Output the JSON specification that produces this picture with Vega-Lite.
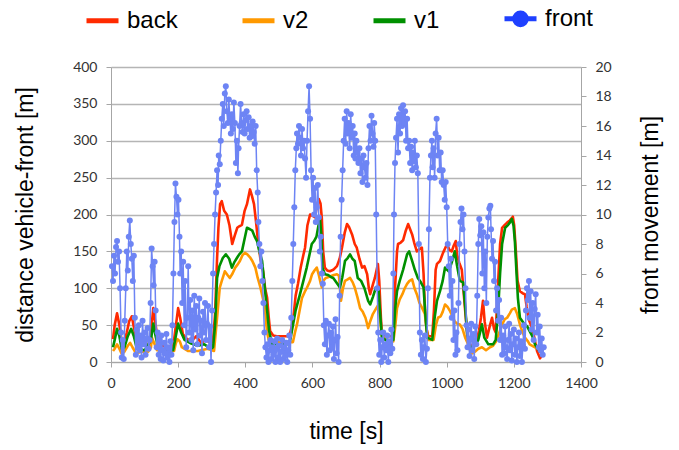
{
  "$schema": "https://vega.github.io/schema/vega-lite/v6.json",
  "width": 470,
  "height": 295,
  "autosize": {"type": "none"},
  "padding": {"left": 111, "top": 67, "right": 98, "bottom": 88},
  "background": "white",
  "config": {
    "font": "Liberation Sans",
    "view": {"stroke": null},
    "axis": {
      "labelFont": "Lato",
      "labelFontSize": 14,
      "labelColor": "#333333",
      "titleFont": "Liberation Sans",
      "titleFontSize": 23,
      "titleFontWeight": "normal",
      "titleColor": "#000000",
      "domainColor": "#a6a6a6",
      "tickColor": "#a6a6a6",
      "tickSize": 5,
      "labelPadding": 9
    }
  },
  "datasets": {
    "dist": [
      {"s":"back","t":6,"v":31},{"s":"back","t":11,"v":50},{"s":"back","t":18,"v":66},{"s":"back","t":25,"v":50},{"s":"back","t":32,"v":28},{"s":"back","t":38,"v":24},{"s":"back","t":47,"v":40},{"s":"back","t":54,"v":55},{"s":"back","t":62,"v":62},{"s":"back","t":69,"v":45},{"s":"back","t":77,"v":24},{"s":"back","t":91,"v":22},{"s":"back","t":111,"v":22},{"s":"back","t":119,"v":40},{"s":"back","t":126,"v":73},{"s":"back","t":133,"v":50},{"s":"back","t":141,"v":24},{"s":"back","t":160,"v":21},{"s":"back","t":185,"v":20},{"s":"back","t":192,"v":45},{"s":"back","t":200,"v":73},{"s":"back","t":206,"v":60},{"s":"back","t":214,"v":38},{"s":"back","t":224,"v":32},{"s":"back","t":239,"v":28},{"s":"back","t":254,"v":35},{"s":"back","t":268,"v":26},{"s":"back","t":283,"v":30},{"s":"back","t":298,"v":25},{"s":"back","t":304,"v":30},{"s":"back","t":310,"v":65},{"s":"back","t":316,"v":141},{"s":"back","t":320,"v":182},{"s":"back","t":325,"v":214},{"s":"back","t":330,"v":218},{"s":"back","t":337,"v":205},{"s":"back","t":345,"v":200},{"s":"back","t":353,"v":185},{"s":"back","t":361,"v":160},{"s":"back","t":369,"v":172},{"s":"back","t":376,"v":182},{"s":"back","t":382,"v":184},{"s":"back","t":390,"v":186},{"s":"back","t":398,"v":205},{"s":"back","t":405,"v":214},{"s":"back","t":414,"v":234},{"s":"back","t":420,"v":225},{"s":"back","t":426,"v":214},{"s":"back","t":432,"v":190},{"s":"back","t":437,"v":168},{"s":"back","t":445,"v":140},{"s":"back","t":453,"v":123},{"s":"back","t":459,"v":100},{"s":"back","t":465,"v":87},{"s":"back","t":470,"v":60},{"s":"back","t":474,"v":42},{"s":"back","t":483,"v":36},{"s":"back","t":494,"v":35},{"s":"back","t":509,"v":35},{"s":"back","t":527,"v":35},{"s":"back","t":534,"v":40},{"s":"back","t":542,"v":55},{"s":"back","t":550,"v":90},{"s":"back","t":557,"v":106},{"s":"back","t":565,"v":128},{"s":"back","t":573,"v":145},{"s":"back","t":578,"v":155},{"s":"back","t":585,"v":185},{"s":"back","t":593,"v":200},{"s":"back","t":601,"v":198},{"s":"back","t":608,"v":196},{"s":"back","t":613,"v":212},{"s":"back","t":619,"v":221},{"s":"back","t":624,"v":215},{"s":"back","t":628,"v":195},{"s":"back","t":632,"v":150},{"s":"back","t":637,"v":128},{"s":"back","t":644,"v":124},{"s":"back","t":652,"v":123},{"s":"back","t":662,"v":125},{"s":"back","t":673,"v":130},{"s":"back","t":681,"v":140},{"s":"back","t":688,"v":155},{"s":"back","t":696,"v":175},{"s":"back","t":703,"v":187},{"s":"back","t":709,"v":183},{"s":"back","t":718,"v":173},{"s":"back","t":726,"v":160},{"s":"back","t":732,"v":155},{"s":"back","t":740,"v":140},{"s":"back","t":748,"v":128},{"s":"back","t":755,"v":130},{"s":"back","t":763,"v":119},{"s":"back","t":768,"v":100},{"s":"back","t":772,"v":92},{"s":"back","t":780,"v":105},{"s":"back","t":786,"v":114},{"s":"back","t":795,"v":133},{"s":"back","t":799,"v":110},{"s":"back","t":804,"v":60},{"s":"back","t":807,"v":38},{"s":"back","t":819,"v":35},{"s":"back","t":834,"v":35},{"s":"back","t":841,"v":36},{"s":"back","t":846,"v":100},{"s":"back","t":852,"v":150},{"s":"back","t":855,"v":160},{"s":"back","t":863,"v":162},{"s":"back","t":870,"v":165},{"s":"back","t":878,"v":178},{"s":"back","t":885,"v":187},{"s":"back","t":891,"v":180},{"s":"back","t":897,"v":173},{"s":"back","t":903,"v":162},{"s":"back","t":911,"v":150},{"s":"back","t":919,"v":153},{"s":"back","t":926,"v":155},{"s":"back","t":931,"v":120},{"s":"back","t":935,"v":73},{"s":"back","t":940,"v":45},{"s":"back","t":945,"v":35},{"s":"back","t":957,"v":35},{"s":"back","t":962,"v":70},{"s":"back","t":967,"v":125},{"s":"back","t":971,"v":133},{"s":"back","t":980,"v":137},{"s":"back","t":989,"v":148},{"s":"back","t":996,"v":155},{"s":"back","t":1001,"v":160},{"s":"back","t":1008,"v":152},{"s":"back","t":1015,"v":150},{"s":"back","t":1021,"v":158},{"s":"back","t":1027,"v":164},{"s":"back","t":1031,"v":145},{"s":"back","t":1037,"v":135},{"s":"back","t":1045,"v":125},{"s":"back","t":1053,"v":80},{"s":"back","t":1061,"v":38},{"s":"back","t":1070,"v":19},{"s":"back","t":1079,"v":25},{"s":"back","t":1089,"v":30},{"s":"back","t":1096,"v":42},{"s":"back","t":1102,"v":60},{"s":"back","t":1108,"v":83},{"s":"back","t":1113,"v":55},{"s":"back","t":1120,"v":33},{"s":"back","t":1129,"v":50},{"s":"back","t":1135,"v":60},{"s":"back","t":1141,"v":45},{"s":"back","t":1146,"v":40},{"s":"back","t":1150,"v":80},{"s":"back","t":1155,"v":125},{"s":"back","t":1159,"v":160},{"s":"back","t":1165,"v":182},{"s":"back","t":1173,"v":186},{"s":"back","t":1180,"v":189},{"s":"back","t":1188,"v":192},{"s":"back","t":1197,"v":197},{"s":"back","t":1201,"v":185},{"s":"back","t":1206,"v":150},{"s":"back","t":1211,"v":110},{"s":"back","t":1218,"v":96},{"s":"back","t":1227,"v":93},{"s":"back","t":1233,"v":92},{"s":"back","t":1238,"v":75},{"s":"back","t":1244,"v":58},{"s":"back","t":1251,"v":50},{"s":"back","t":1257,"v":42},{"s":"back","t":1263,"v":28},{"s":"back","t":1269,"v":15},{"s":"back","t":1278,"v":5},{"s":"back","t":1287,"v":12},
      {"s":"v2","t":6,"v":15},{"s":"v2","t":11,"v":18},{"s":"v2","t":18,"v":24},{"s":"v2","t":25,"v":18},{"s":"v2","t":32,"v":11},{"s":"v2","t":40,"v":14},{"s":"v2","t":50,"v":22},{"s":"v2","t":57,"v":26},{"s":"v2","t":64,"v":20},{"s":"v2","t":74,"v":12},{"s":"v2","t":91,"v":14},{"s":"v2","t":111,"v":14},{"s":"v2","t":119,"v":20},{"s":"v2","t":122,"v":33},{"s":"v2","t":129,"v":25},{"s":"v2","t":137,"v":16},{"s":"v2","t":160,"v":15},{"s":"v2","t":188,"v":15},{"s":"v2","t":193,"v":25},{"s":"v2","t":198,"v":31},{"s":"v2","t":205,"v":28},{"s":"v2","t":211,"v":20},{"s":"v2","t":229,"v":15},{"s":"v2","t":259,"v":15},{"s":"v2","t":288,"v":18},{"s":"v2","t":307,"v":15},{"s":"v2","t":312,"v":40},{"s":"v2","t":316,"v":60},{"s":"v2","t":324,"v":101},{"s":"v2","t":330,"v":110},{"s":"v2","t":339,"v":123},{"s":"v2","t":347,"v":118},{"s":"v2","t":354,"v":114},{"s":"v2","t":362,"v":120},{"s":"v2","t":370,"v":128},{"s":"v2","t":377,"v":132},{"s":"v2","t":384,"v":137},{"s":"v2","t":392,"v":145},{"s":"v2","t":399,"v":148},{"s":"v2","t":406,"v":146},{"s":"v2","t":414,"v":142},{"s":"v2","t":421,"v":137},{"s":"v2","t":430,"v":128},{"s":"v2","t":437,"v":114},{"s":"v2","t":445,"v":101},{"s":"v2","t":453,"v":85},{"s":"v2","t":459,"v":69},{"s":"v2","t":465,"v":40},{"s":"v2","t":471,"v":28},{"s":"v2","t":494,"v":27},{"s":"v2","t":524,"v":27},{"s":"v2","t":542,"v":27},{"s":"v2","t":548,"v":40},{"s":"v2","t":554,"v":51},{"s":"v2","t":562,"v":70},{"s":"v2","t":569,"v":87},{"s":"v2","t":577,"v":95},{"s":"v2","t":584,"v":101},{"s":"v2","t":593,"v":110},{"s":"v2","t":599,"v":119},{"s":"v2","t":606,"v":124},{"s":"v2","t":613,"v":128},{"s":"v2","t":619,"v":118},{"s":"v2","t":624,"v":108},{"s":"v2","t":628,"v":101},{"s":"v2","t":632,"v":110},{"s":"v2","t":640,"v":114},{"s":"v2","t":652,"v":116},{"s":"v2","t":664,"v":118},{"s":"v2","t":673,"v":119},{"s":"v2","t":679,"v":117},{"s":"v2","t":685,"v":83},{"s":"v2","t":691,"v":100},{"s":"v2","t":697,"v":110},{"s":"v2","t":705,"v":112},{"s":"v2","t":712,"v":114},{"s":"v2","t":720,"v":108},{"s":"v2","t":726,"v":101},{"s":"v2","t":734,"v":88},{"s":"v2","t":742,"v":73},{"s":"v2","t":750,"v":68},{"s":"v2","t":758,"v":60},{"s":"v2","t":766,"v":46},{"s":"v2","t":772,"v":55},{"s":"v2","t":780,"v":65},{"s":"v2","t":789,"v":72},{"s":"v2","t":797,"v":78},{"s":"v2","t":801,"v":60},{"s":"v2","t":807,"v":35},{"s":"v2","t":824,"v":30},{"s":"v2","t":841,"v":28},{"s":"v2","t":846,"v":45},{"s":"v2","t":852,"v":73},{"s":"v2","t":860,"v":85},{"s":"v2","t":868,"v":92},{"s":"v2","t":875,"v":100},{"s":"v2","t":882,"v":106},{"s":"v2","t":889,"v":110},{"s":"v2","t":897,"v":112},{"s":"v2","t":904,"v":100},{"s":"v2","t":911,"v":92},{"s":"v2","t":919,"v":80},{"s":"v2","t":927,"v":73},{"s":"v2","t":935,"v":65},{"s":"v2","t":940,"v":45},{"s":"v2","t":945,"v":30},{"s":"v2","t":961,"v":30},{"s":"v2","t":968,"v":50},{"s":"v2","t":974,"v":60},{"s":"v2","t":982,"v":62},{"s":"v2","t":988,"v":68},{"s":"v2","t":995,"v":78},{"s":"v2","t":1002,"v":75},{"s":"v2","t":1010,"v":69},{"s":"v2","t":1017,"v":62},{"s":"v2","t":1024,"v":55},{"s":"v2","t":1031,"v":52},{"s":"v2","t":1039,"v":51},{"s":"v2","t":1047,"v":45},{"s":"v2","t":1055,"v":33},{"s":"v2","t":1061,"v":27},{"s":"v2","t":1073,"v":11},{"s":"v2","t":1084,"v":14},{"s":"v2","t":1094,"v":18},{"s":"v2","t":1105,"v":20},{"s":"v2","t":1117,"v":16},{"s":"v2","t":1129,"v":20},{"s":"v2","t":1138,"v":22},{"s":"v2","t":1146,"v":27},{"s":"v2","t":1153,"v":35},{"s":"v2","t":1165,"v":51},{"s":"v2","t":1173,"v":58},{"s":"v2","t":1180,"v":60},{"s":"v2","t":1188,"v":66},{"s":"v2","t":1194,"v":71},{"s":"v2","t":1203,"v":73},{"s":"v2","t":1210,"v":65},{"s":"v2","t":1218,"v":51},{"s":"v2","t":1226,"v":40},{"s":"v2","t":1233,"v":33},{"s":"v2","t":1242,"v":28},{"s":"v2","t":1247,"v":24},{"s":"v2","t":1255,"v":22},{"s":"v2","t":1263,"v":20},{"s":"v2","t":1271,"v":18},{"s":"v2","t":1278,"v":16},{"s":"v2","t":1287,"v":14},
      {"s":"v1","t":6,"v":20},{"s":"v1","t":11,"v":30},{"s":"v1","t":18,"v":45},{"s":"v1","t":25,"v":35},{"s":"v1","t":32,"v":18},{"s":"v1","t":40,"v":20},{"s":"v1","t":50,"v":35},{"s":"v1","t":60,"v":45},{"s":"v1","t":68,"v":35},{"s":"v1","t":77,"v":18},{"s":"v1","t":101,"v":16},{"s":"v1","t":119,"v":30},{"s":"v1","t":126,"v":52},{"s":"v1","t":133,"v":35},{"s":"v1","t":141,"v":18},{"s":"v1","t":185,"v":16},{"s":"v1","t":193,"v":35},{"s":"v1","t":200,"v":52},{"s":"v1","t":209,"v":40},{"s":"v1","t":219,"v":30},{"s":"v1","t":239,"v":25},{"s":"v1","t":259,"v":22},{"s":"v1","t":278,"v":24},{"s":"v1","t":298,"v":18},{"s":"v1","t":304,"v":20},{"s":"v1","t":310,"v":50},{"s":"v1","t":316,"v":114},{"s":"v1","t":323,"v":130},{"s":"v1","t":333,"v":141},{"s":"v1","t":342,"v":146},{"s":"v1","t":352,"v":140},{"s":"v1","t":360,"v":128},{"s":"v1","t":367,"v":135},{"s":"v1","t":375,"v":141},{"s":"v1","t":382,"v":146},{"s":"v1","t":390,"v":150},{"s":"v1","t":397,"v":165},{"s":"v1","t":405,"v":182},{"s":"v1","t":414,"v":180},{"s":"v1","t":421,"v":178},{"s":"v1","t":428,"v":170},{"s":"v1","t":435,"v":164},{"s":"v1","t":442,"v":150},{"s":"v1","t":450,"v":137},{"s":"v1","t":455,"v":115},{"s":"v1","t":459,"v":96},{"s":"v1","t":465,"v":70},{"s":"v1","t":471,"v":42},{"s":"v1","t":480,"v":24},{"s":"v1","t":494,"v":24},{"s":"v1","t":514,"v":24},{"s":"v1","t":527,"v":24},{"s":"v1","t":534,"v":30},{"s":"v1","t":542,"v":50},{"s":"v1","t":550,"v":70},{"s":"v1","t":563,"v":92},{"s":"v1","t":573,"v":110},{"s":"v1","t":583,"v":128},{"s":"v1","t":591,"v":145},{"s":"v1","t":598,"v":160},{"s":"v1","t":605,"v":164},{"s":"v1","t":612,"v":170},{"s":"v1","t":618,"v":185},{"s":"v1","t":622,"v":196},{"s":"v1","t":626,"v":175},{"s":"v1","t":630,"v":128},{"s":"v1","t":637,"v":119},{"s":"v1","t":647,"v":118},{"s":"v1","t":656,"v":115},{"s":"v1","t":662,"v":114},{"s":"v1","t":671,"v":108},{"s":"v1","t":682,"v":101},{"s":"v1","t":689,"v":115},{"s":"v1","t":697,"v":137},{"s":"v1","t":705,"v":141},{"s":"v1","t":712,"v":146},{"s":"v1","t":719,"v":140},{"s":"v1","t":726,"v":137},{"s":"v1","t":735,"v":114},{"s":"v1","t":745,"v":110},{"s":"v1","t":755,"v":100},{"s":"v1","t":766,"v":83},{"s":"v1","t":772,"v":78},{"s":"v1","t":780,"v":88},{"s":"v1","t":789,"v":101},{"s":"v1","t":797,"v":98},{"s":"v1","t":801,"v":70},{"s":"v1","t":807,"v":33},{"s":"v1","t":824,"v":28},{"s":"v1","t":841,"v":30},{"s":"v1","t":846,"v":70},{"s":"v1","t":852,"v":96},{"s":"v1","t":860,"v":110},{"s":"v1","t":870,"v":125},{"s":"v1","t":882,"v":146},{"s":"v1","t":888,"v":150},{"s":"v1","t":897,"v":137},{"s":"v1","t":905,"v":125},{"s":"v1","t":914,"v":114},{"s":"v1","t":923,"v":108},{"s":"v1","t":931,"v":101},{"s":"v1","t":937,"v":60},{"s":"v1","t":942,"v":33},{"s":"v1","t":957,"v":30},{"s":"v1","t":964,"v":60},{"s":"v1","t":971,"v":83},{"s":"v1","t":980,"v":96},{"s":"v1","t":988,"v":110},{"s":"v1","t":995,"v":128},{"s":"v1","t":1006,"v":123},{"s":"v1","t":1015,"v":135},{"s":"v1","t":1024,"v":150},{"s":"v1","t":1031,"v":130},{"s":"v1","t":1039,"v":110},{"s":"v1","t":1049,"v":108},{"s":"v1","t":1055,"v":75},{"s":"v1","t":1061,"v":38},{"s":"v1","t":1070,"v":20},{"s":"v1","t":1084,"v":22},{"s":"v1","t":1094,"v":30},{"s":"v1","t":1105,"v":51},{"s":"v1","t":1112,"v":33},{"s":"v1","t":1124,"v":24},{"s":"v1","t":1138,"v":24},{"s":"v1","t":1146,"v":30},{"s":"v1","t":1153,"v":69},{"s":"v1","t":1159,"v":120},{"s":"v1","t":1165,"v":160},{"s":"v1","t":1174,"v":182},{"s":"v1","t":1183,"v":186},{"s":"v1","t":1188,"v":189},{"s":"v1","t":1194,"v":194},{"s":"v1","t":1199,"v":185},{"s":"v1","t":1203,"v":164},{"s":"v1","t":1208,"v":120},{"s":"v1","t":1212,"v":87},{"s":"v1","t":1218,"v":60},{"s":"v1","t":1232,"v":51},{"s":"v1","t":1240,"v":48},{"s":"v1","t":1247,"v":42},{"s":"v1","t":1255,"v":35},{"s":"v1","t":1263,"v":24},{"s":"v1","t":1271,"v":18},{"s":"v1","t":1278,"v":14},{"s":"v1","t":1287,"v":16}
    ],
    "front": [
      {"t":3,"m":6.5},{"t":6,"m":5.5},{"t":9,"m":7.2},{"t":12,"m":6.0},{"t":15,"m":7.8},{"t":18,"m":8.2},{"t":21,"m":6.8},{"t":24,"m":7.5},{"t":27,"m":5.0},{"t":30,"m":2.0},{"t":32,"m":0.3},{"t":35,"m":1.5},{"t":38,"m":0.2},{"t":41,"m":2.8},{"t":44,"m":5.0},{"t":47,"m":7.5},{"t":50,"m":6.2},{"t":53,"m":8.5},{"t":56,"m":9.6},{"t":59,"m":8.0},{"t":62,"m":7.0},{"t":65,"m":5.5},{"t":68,"m":7.2},{"t":71,"m":3.0},{"t":74,"m":0.5},{"t":77,"m":2.2},{"t":80,"m":1.0},{"t":83,"m":2.5},{"t":86,"m":0.8},{"t":89,"m":1.8},{"t":91,"m":0.3},{"t":94,"m":2.8},{"t":97,"m":1.2},{"t":100,"m":2.0},{"t":103,"m":0.5},{"t":106,"m":1.6},{"t":109,"m":2.3},{"t":112,"m":0.9},{"t":115,"m":1.5},{"t":118,"m":4.0},{"t":121,"m":7.7},{"t":124,"m":6.5},{"t":127,"m":5.2},{"t":130,"m":6.8},{"t":133,"m":3.5},{"t":136,"m":1.0},{"t":139,"m":2.0},{"t":142,"m":0.5},{"t":145,"m":1.5},{"t":148,"m":0.2},{"t":150,"m":1.8},{"t":153,"m":0.8},{"t":156,"m":0.1},{"t":159,"m":1.3},{"t":162,"m":0.6},{"t":165,"m":1.9},{"t":168,"m":0.3},{"t":171,"m":1.0},{"t":174,"m":0.0},{"t":177,"m":1.4},{"t":180,"m":0.5},{"t":183,"m":2.5},{"t":186,"m":6.0},{"t":189,"m":9.5},{"t":192,"m":12.1},{"t":195,"m":11.2},{"t":198,"m":10.0},{"t":201,"m":11.0},{"t":204,"m":8.5},{"t":206,"m":6.0},{"t":209,"m":7.5},{"t":212,"m":4.0},{"t":215,"m":6.8},{"t":218,"m":2.5},{"t":221,"m":5.5},{"t":224,"m":1.0},{"t":227,"m":3.0},{"t":230,"m":6.5},{"t":233,"m":2.0},{"t":236,"m":4.2},{"t":239,"m":1.5},{"t":242,"m":3.5},{"t":245,"m":0.8},{"t":248,"m":4.5},{"t":251,"m":2.2},{"t":254,"m":3.8},{"t":257,"m":1.2},{"t":260,"m":3.0},{"t":263,"m":4.3},{"t":265,"m":1.8},{"t":268,"m":2.8},{"t":271,"m":0.6},{"t":274,"m":3.4},{"t":277,"m":2.0},{"t":280,"m":4.0},{"t":283,"m":1.5},{"t":286,"m":2.6},{"t":289,"m":3.8},{"t":292,"m":1.0},{"t":295,"m":2.4},{"t":298,"m":0.0},{"t":301,"m":3.5},{"t":304,"m":6.0},{"t":307,"m":8.0},{"t":310,"m":10.0},{"t":313,"m":11.5},{"t":316,"m":13.0},{"t":319,"m":12.0},{"t":321,"m":14.0},{"t":324,"m":13.4},{"t":327,"m":15.0},{"t":330,"m":16.5},{"t":333,"m":17.5},{"t":336,"m":16.0},{"t":339,"m":18.2},{"t":342,"m":18.7},{"t":345,"m":17.0},{"t":348,"m":16.2},{"t":351,"m":17.8},{"t":354,"m":16.5},{"t":357,"m":15.5},{"t":360,"m":16.8},{"t":363,"m":15.8},{"t":366,"m":17.6},{"t":369,"m":16.2},{"t":372,"m":13.5},{"t":375,"m":15.0},{"t":378,"m":12.8},{"t":380,"m":14.5},{"t":383,"m":16.0},{"t":386,"m":17.5},{"t":389,"m":16.2},{"t":392,"m":15.6},{"t":395,"m":16.8},{"t":398,"m":15.5},{"t":401,"m":16.4},{"t":404,"m":17.0},{"t":407,"m":15.8},{"t":410,"m":16.6},{"t":413,"m":15.2},{"t":416,"m":16.0},{"t":419,"m":15.3},{"t":422,"m":16.3},{"t":425,"m":15.6},{"t":428,"m":14.8},{"t":431,"m":16.0},{"t":434,"m":13.0},{"t":437,"m":11.5},{"t":439,"m":9.5},{"t":442,"m":8.0},{"t":445,"m":6.5},{"t":448,"m":7.5},{"t":451,"m":5.5},{"t":454,"m":4.0},{"t":457,"m":2.0},{"t":460,"m":1.0},{"t":463,"m":0.3},{"t":466,"m":1.2},{"t":469,"m":0.0},{"t":472,"m":0.8},{"t":475,"m":1.5},{"t":478,"m":0.2},{"t":481,"m":1.0},{"t":484,"m":0.5},{"t":487,"m":1.4},{"t":490,"m":0.0},{"t":493,"m":0.9},{"t":495,"m":1.6},{"t":498,"m":0.3},{"t":501,"m":1.1},{"t":504,"m":0.0},{"t":507,"m":0.7},{"t":510,"m":1.5},{"t":513,"m":0.2},{"t":516,"m":1.0},{"t":519,"m":0.4},{"t":522,"m":1.3},{"t":525,"m":0.0},{"t":528,"m":0.8},{"t":531,"m":1.8},{"t":534,"m":0.5},{"t":537,"m":3.0},{"t":540,"m":5.5},{"t":543,"m":8.0},{"t":546,"m":10.5},{"t":549,"m":13.0},{"t":552,"m":14.5},{"t":554,"m":15.5},{"t":557,"m":14.8},{"t":560,"m":16.0},{"t":563,"m":15.2},{"t":566,"m":14.0},{"t":569,"m":15.8},{"t":572,"m":14.5},{"t":575,"m":15.0},{"t":578,"m":13.8},{"t":581,"m":12.5},{"t":584,"m":15.0},{"t":587,"m":17.0},{"t":590,"m":18.7},{"t":593,"m":16.5},{"t":596,"m":13.0},{"t":599,"m":11.0},{"t":602,"m":12.5},{"t":605,"m":10.0},{"t":608,"m":11.8},{"t":610,"m":9.5},{"t":613,"m":10.5},{"t":616,"m":12.0},{"t":619,"m":9.8},{"t":622,"m":7.5},{"t":625,"m":8.5},{"t":628,"m":6.0},{"t":631,"m":5.3},{"t":634,"m":2.5},{"t":637,"m":1.2},{"t":640,"m":2.8},{"t":643,"m":0.5},{"t":646,"m":1.8},{"t":649,"m":2.6},{"t":652,"m":0.8},{"t":655,"m":2.0},{"t":658,"m":1.0},{"t":661,"m":2.4},{"t":664,"m":0.2},{"t":667,"m":1.5},{"t":669,"m":2.9},{"t":672,"m":0.6},{"t":675,"m":1.7},{"t":678,"m":0.0},{"t":681,"m":4.5},{"t":684,"m":8.5},{"t":687,"m":11.0},{"t":690,"m":13.0},{"t":693,"m":15.0},{"t":696,"m":16.5},{"t":699,"m":14.8},{"t":702,"m":17.0},{"t":705,"m":15.5},{"t":708,"m":16.2},{"t":711,"m":14.5},{"t":714,"m":16.8},{"t":717,"m":15.2},{"t":720,"m":16.0},{"t":723,"m":14.0},{"t":726,"m":15.5},{"t":728,"m":13.8},{"t":731,"m":15.0},{"t":734,"m":14.2},{"t":737,"m":13.5},{"t":740,"m":14.5},{"t":743,"m":12.8},{"t":746,"m":13.8},{"t":749,"m":12.2},{"t":752,"m":14.0},{"t":755,"m":13.2},{"t":758,"m":12.5},{"t":761,"m":13.5},{"t":764,"m":12.0},{"t":767,"m":14.5},{"t":770,"m":16.0},{"t":773,"m":15.0},{"t":776,"m":16.7},{"t":779,"m":15.5},{"t":782,"m":14.6},{"t":784,"m":16.2},{"t":787,"m":15.0},{"t":790,"m":10.0},{"t":793,"m":5.0},{"t":796,"m":2.0},{"t":799,"m":0.5},{"t":802,"m":1.5},{"t":805,"m":0.0},{"t":808,"m":1.0},{"t":811,"m":2.0},{"t":814,"m":0.3},{"t":817,"m":1.2},{"t":820,"m":0.8},{"t":823,"m":1.8},{"t":826,"m":0.0},{"t":829,"m":1.4},{"t":832,"m":0.6},{"t":835,"m":2.2},{"t":838,"m":0.9},{"t":841,"m":6.0},{"t":843,"m":10.0},{"t":846,"m":13.5},{"t":849,"m":15.2},{"t":852,"m":16.5},{"t":855,"m":14.2},{"t":858,"m":16.8},{"t":861,"m":15.5},{"t":864,"m":17.2},{"t":867,"m":16.0},{"t":870,"m":17.4},{"t":873,"m":16.2},{"t":876,"m":17.0},{"t":879,"m":15.0},{"t":882,"m":16.5},{"t":885,"m":14.5},{"t":888,"m":15.0},{"t":891,"m":13.5},{"t":894,"m":14.6},{"t":897,"m":13.0},{"t":899,"m":14.2},{"t":902,"m":13.6},{"t":905,"m":15.0},{"t":908,"m":13.2},{"t":911,"m":14.0},{"t":914,"m":12.8},{"t":917,"m":8.0},{"t":920,"m":2.0},{"t":923,"m":0.5},{"t":926,"m":1.5},{"t":929,"m":0.2},{"t":932,"m":1.0},{"t":935,"m":1.8},{"t":938,"m":0.0},{"t":941,"m":0.9},{"t":944,"m":5.0},{"t":947,"m":9.0},{"t":950,"m":12.5},{"t":953,"m":14.0},{"t":956,"m":15.0},{"t":958,"m":13.2},{"t":961,"m":14.5},{"t":964,"m":12.5},{"t":967,"m":15.5},{"t":970,"m":16.5},{"t":973,"m":14.0},{"t":976,"m":15.2},{"t":979,"m":13.0},{"t":982,"m":14.2},{"t":985,"m":12.2},{"t":988,"m":13.0},{"t":991,"m":12.0},{"t":994,"m":11.0},{"t":997,"m":12.2},{"t":1000,"m":10.5},{"t":1003,"m":8.0},{"t":1006,"m":6.5},{"t":1009,"m":4.5},{"t":1012,"m":7.0},{"t":1015,"m":3.0},{"t":1017,"m":5.5},{"t":1020,"m":1.5},{"t":1023,"m":3.5},{"t":1026,"m":0.5},{"t":1029,"m":2.0},{"t":1032,"m":0.8},{"t":1035,"m":4.0},{"t":1038,"m":8.0},{"t":1041,"m":9.5},{"t":1044,"m":10.4},{"t":1047,"m":9.0},{"t":1050,"m":10.0},{"t":1053,"m":7.5},{"t":1056,"m":5.0},{"t":1059,"m":2.5},{"t":1062,"m":1.0},{"t":1065,"m":2.2},{"t":1068,"m":0.4},{"t":1071,"m":1.6},{"t":1073,"m":2.6},{"t":1076,"m":0.8},{"t":1079,"m":1.9},{"t":1082,"m":0.2},{"t":1085,"m":2.4},{"t":1088,"m":1.2},{"t":1091,"m":4.5},{"t":1094,"m":8.0},{"t":1097,"m":9.7},{"t":1100,"m":8.6},{"t":1103,"m":9.2},{"t":1106,"m":6.0},{"t":1109,"m":8.8},{"t":1112,"m":5.0},{"t":1115,"m":7.5},{"t":1118,"m":4.0},{"t":1121,"m":8.5},{"t":1124,"m":9.8},{"t":1127,"m":10.4},{"t":1130,"m":10.6},{"t":1132,"m":9.0},{"t":1135,"m":7.0},{"t":1138,"m":8.2},{"t":1141,"m":5.5},{"t":1144,"m":6.8},{"t":1147,"m":3.5},{"t":1150,"m":5.0},{"t":1153,"m":2.8},{"t":1156,"m":4.2},{"t":1159,"m":1.5},{"t":1162,"m":3.0},{"t":1165,"m":0.5},{"t":1168,"m":1.8},{"t":1171,"m":0.6},{"t":1174,"m":2.4},{"t":1177,"m":1.0},{"t":1180,"m":0.2},{"t":1183,"m":1.5},{"t":1186,"m":2.6},{"t":1188,"m":0.8},{"t":1191,"m":1.9},{"t":1194,"m":0.1},{"t":1197,"m":1.2},{"t":1200,"m":2.2},{"t":1203,"m":0.5},{"t":1206,"m":1.6},{"t":1209,"m":0.0},{"t":1212,"m":1.0},{"t":1215,"m":2.0},{"t":1218,"m":0.4},{"t":1221,"m":1.4},{"t":1224,"m":0.0},{"t":1227,"m":1.1},{"t":1230,"m":2.5},{"t":1233,"m":0.9},{"t":1236,"m":3.5},{"t":1239,"m":5.0},{"t":1242,"m":4.2},{"t":1245,"m":5.5},{"t":1247,"m":3.0},{"t":1250,"m":4.8},{"t":1253,"m":2.2},{"t":1256,"m":4.0},{"t":1259,"m":1.5},{"t":1262,"m":3.6},{"t":1265,"m":4.6},{"t":1268,"m":2.0},{"t":1271,"m":3.2},{"t":1274,"m":1.0},{"t":1277,"m":2.4},{"t":1280,"m":0.8},{"t":1283,"m":1.6},{"t":1286,"m":0.5},{"t":1289,"m":1.0}
    ]
  },
  "layer": [
    {
      "data": {"name": "dist"},
      "mark": {"type": "line", "strokeWidth": 2.6, "strokeJoin": "round"},
      "encoding": {
        "x": {
          "field": "t", "type": "quantitative",
          "scale": {"domain": [0, 1400], "nice": false},
          "axis": {
            "title": "time [s]",
            "format": "d",
            "values": [0, 200, 400, 600, 800, 1000, 1200, 1400],
            "grid": false,
            "titlePadding": 30,
            "labelFlush": false
          }
        },
        "y": {
          "field": "v", "type": "quantitative",
          "scale": {"domain": [0, 400], "nice": false},
          "axis": {
            "title": "distance vehicle-front [m]",
            "orient": "left",
            "values": [0, 50, 100, 150, 200, 250, 300, 350, 400],
            "grid": true,
            "gridColor": "#b5b5b5",
            "gridWidth": 1.5,
            "titlePadding": 35,
            "labelFlush": false
          }
        },
        "color": {
          "field": "s", "type": "nominal",
          "scale": {
            "domain": ["back", "v2", "v1", "front"],
            "range": ["#ff2a00", "#ff9900", "#009000", "#1f40ff"]
          },
          "legend": {
            "orient": "none",
            "legendX": -27,
            "legendY": -67,
            "direction": "horizontal",
            "title": null,
            "padding": 0,
            "labelFont": "Liberation Sans",
            "labelFontSize": 24,
            "labelColor": "#000000",
            "labelOffset": 6,
            "symbolType": "stroke",
            "symbolSize": 1024,
            "symbolStrokeWidth": 5,
            "columnPadding": 54,
            "encode": {
              "symbols": {
                "update": {
                  "shape": {"signal": "datum.value === 'front' ? 'M-1,0L1,0M-0.36,0A0.36,0.36,0,1,1,0.36,0A0.36,0.36,0,1,1,-0.36,0Z' : 'stroke'"},
                  "fill": {"signal": "datum.value === 'front' ? '#1f40ff' : 'transparent'"},
                  "opacity": {"value": 1}
                }
              }
            }
          }
        }
      }
    },
    {
      "data": {"name": "front"},
      "mark": {"type": "line", "color": "#6d84f4", "strokeWidth": 1.5, "point": {"filled": true, "size": 36, "opacity": 1, "color": "#6d84f4"}},
      "encoding": {
        "x": {"field": "t", "type": "quantitative"},
        "y": {
          "field": "m", "type": "quantitative",
          "scale": {"domain": [0, 20], "nice": false},
          "axis": {
            "title": "front movement [m]",
            "orient": "right",
            "values": [0, 2, 4, 6, 8, 10, 12, 14, 16, 18, 20],
            "grid": false,
            "titleAngle": 270,
            "titleBaseline": "top",
            "titlePadding": 28,
            "labelFlush": false
          }
        }
      }
    }
  ],
  "resolve": {"scale": {"y": "independent"}}
}
